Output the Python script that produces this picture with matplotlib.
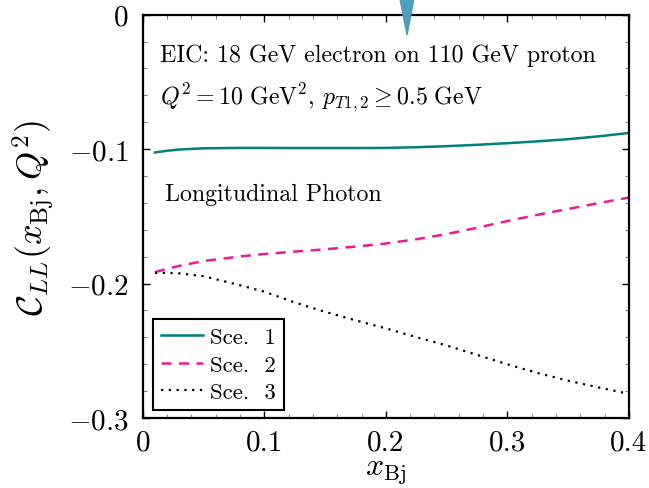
import matplotlib
matplotlib.use('Agg')
import matplotlib.pyplot as plt
from matplotlib.patches import Polygon

plt.rcParams['font.family'] = 'serif'
plt.rcParams['font.serif'] = ['cmr10']
plt.rcParams['mathtext.fontset'] = 'cm'
plt.rcParams['axes.formatter.use_mathtext'] = True

# x_Bj grid and C_LL values
x_bj = [0.01, 0.02, 0.03, 0.05, 0.08, 0.1, 0.125, 0.15, 0.175, 0.2, 0.225, 0.25, 0.275, 0.3, 0.325, 0.35, 0.375, 0.4]
sce1 = [-0.1025, -0.1012, -0.1003, -0.0994, -0.0991, -0.0991, -0.0992, -0.0992, -0.0992, -0.0991, -0.0986,
        -0.0978, -0.0968, -0.0956, -0.0942, -0.0926, -0.0905, -0.0880]
sce2 = [-0.1915, -0.1890, -0.1868, -0.1832, -0.1798, -0.1780, -0.1762, -0.1745, -0.1725, -0.1702, -0.1670,
        -0.1632, -0.1585, -0.1535, -0.1488, -0.1445, -0.1402, -0.1360]
sce3 = [-0.1920, -0.1920, -0.1924, -0.1945, -0.2012, -0.2060, -0.2140, -0.2210, -0.2273, -0.2333, -0.2398,
        -0.2460, -0.2530, -0.2600, -0.2665, -0.2722, -0.2772, -0.2820]

labels = ['Sce.  1', 'Sce.  2', 'Sce.  3']
x_ticks = [0, 0.1, 0.2, 0.3, 0.4]
y_ticks = [-0.3, -0.2, -0.1, 0]

fig = plt.figure(figsize=(6.49, 4.89), dpi=100)
ax = fig.add_axes([0.220, 0.143, 0.749, 0.825])

ax.plot(x_bj, sce1, color='#008080', lw=1.8, label=labels[0])
ax.plot(x_bj, sce2, color='#f0189a', lw=1.8, ls=(0, (4, 3)), label=labels[1])
ax.plot(x_bj, sce3, color='black', lw=1.6, ls=(0, (1, 2.5)), label=labels[2])

ax.set_xlim(0, 0.4)
ax.set_ylim(-0.3, 0)
ax.set_xticks(x_ticks)
ax.set_xticklabels(['0', '0.1', '0.2', '0.3', '0.4'])
ax.set_yticks(y_ticks)
ax.set_yticklabels([r'$-0.3$', r'$-0.2$', r'$-0.1$', r'$0$'])
ax.set_xticks([i * 0.02 for i in range(21)], minor=True)
ax.set_yticks([-0.3 + i * 0.02 for i in range(16)], minor=True)
ax.tick_params(which='both', direction='in', top=True, right=True, labelsize=21)
ax.tick_params(which='major', length=5, width=1.0)
ax.tick_params(axis='x', which='major', pad=8)
ax.tick_params(axis='y', which='major', pad=10)
ax.tick_params(which='minor', length=3, width=0.8, color='#888888')
for s in ax.spines.values():
    s.set_linewidth(1.6)

ax.set_xlabel(r'$x_{\rm Bj}$', fontsize=23, labelpad=2)
ax.set_ylabel(r'$\mathcal{C}_{LL}(x_{\rm Bj}, Q^2)$', fontsize=26, labelpad=8)

ax.text(0.036, 0.885, 'EIC: 18 GeV electron on 110 GeV proton', transform=ax.transAxes,
        fontsize=17.2, va='baseline')
ax.text(0.036, 0.78, r'$Q^2 = 10\ \mathrm{GeV}^2,\, p_{T1,2} \geq 0.5\ \mathrm{GeV}$',
        transform=ax.transAxes, fontsize=17.2, va='baseline')
ax.text(0.046, 0.54, 'Longitudinal Photon', transform=ax.transAxes, fontsize=17.2, va='baseline')

leg = ax.legend(loc='lower left', bbox_to_anchor=(0.022, 0.02), fontsize=16.5, frameon=True,
                fancybox=False, edgecolor='black', framealpha=1, handlelength=1.8,
                handletextpad=0.3, borderpad=0.35, labelspacing=0.32, borderaxespad=0)
leg.get_frame().set_linewidth(1.5)

# pointer overlay at the top edge of the screenshot
fig.patches.append(Polygon([[400 / 649, 1.0], [414 / 649, 1.0], [407 / 649, 1 - 36 / 489]],
                           closed=True, transform=fig.transFigure, color='#4f9dbf', zorder=10))

fig.savefig('out.png', dpi=100)
